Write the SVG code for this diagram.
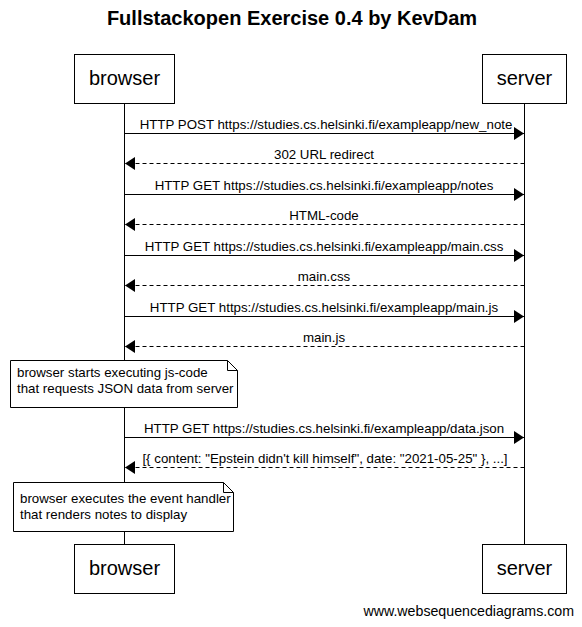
<svg xmlns="http://www.w3.org/2000/svg" width="582" height="627" viewBox="0 0 582 627">
<style>
text{font-family:"Liberation Sans",Arial,sans-serif;fill:#000}
.box{fill:#fff;stroke:#000;stroke-width:1}
.pt{font-size:20px;text-anchor:middle}
.lbl{font-size:13.3px;text-anchor:middle}
.nt{font-size:13.3px}
.ln{stroke:#000;stroke-width:1;fill:none}
.dash{stroke-dasharray:4 3}
</style>
<defs>
<marker id="ah" markerWidth="10" markerHeight="13" refX="10" refY="6.5" orient="auto" markerUnits="userSpaceOnUse">
<path d="M0,0 L10,6.5 L0,13 Z" fill="#000"/>
</marker>
</defs>
<rect width="582" height="627" fill="#fff"/>
<text x="292" y="25" font-size="20" font-weight="bold" text-anchor="middle">Fullstackopen Exercise 0.4 by KevDam</text>
<g id="lifelines">
<line class="ln" x1="124.5" y1="103" x2="124.5" y2="544"/>
<line class="ln" x1="524.5" y1="103" x2="524.5" y2="544"/>
</g>
<g id="browser">
<rect class="box" x="74.5" y="54.5" width="100" height="49"/>
<text class="pt" x="124.5" y="85">browser</text>
</g>
<g id="server">
<rect class="box" x="482.5" y="54.5" width="84" height="49"/>
<text class="pt" x="524.5" y="85">server</text>
</g>
<g id="browser-bottom">
<rect class="box" x="74.5" y="544.5" width="100" height="49"/>
<text class="pt" x="124.5" y="575">browser</text>
</g>
<g id="server-bottom">
<rect class="box" x="482.5" y="544.5" width="84" height="49"/>
<text class="pt" x="524.5" y="575">server</text>
</g>
<g id="connectors">
<line class="ln" x1="124.5" y1="133.5" x2="524" y2="133.5" marker-end="url(#ah)"/>
<text class="lbl" x="326" y="129">HTTP POST https://studies.cs.helsinki.fi/exampleapp/new_note</text>
<line class="ln dash" x1="524.5" y1="163.5" x2="125" y2="163.5" marker-end="url(#ah)"/>
<text class="lbl" x="324" y="159">302 URL redirect</text>
<line class="ln" x1="124.5" y1="194.5" x2="524" y2="194.5" marker-end="url(#ah)"/>
<text class="lbl" x="324" y="190">HTTP GET https://studies.cs.helsinki.fi/exampleapp/notes</text>
<line class="ln dash" x1="524.5" y1="224.5" x2="125" y2="224.5" marker-end="url(#ah)"/>
<text class="lbl" x="324" y="220">HTML-code</text>
<line class="ln" x1="124.5" y1="255.5" x2="524" y2="255.5" marker-end="url(#ah)"/>
<text class="lbl" x="324" y="251">HTTP GET https://studies.cs.helsinki.fi/exampleapp/main.css</text>
<line class="ln dash" x1="524.5" y1="285.5" x2="125" y2="285.5" marker-end="url(#ah)"/>
<text class="lbl" x="324" y="281">main.css</text>
<line class="ln" x1="124.5" y1="316.5" x2="524" y2="316.5" marker-end="url(#ah)"/>
<text class="lbl" x="324" y="312">HTTP GET https://studies.cs.helsinki.fi/exampleapp/main.js</text>
<line class="ln dash" x1="524.5" y1="346.5" x2="125" y2="346.5" marker-end="url(#ah)"/>
<text class="lbl" x="324" y="342">main.js</text>
<line class="ln" x1="124.5" y1="437.5" x2="524" y2="437.5" marker-end="url(#ah)"/>
<text class="lbl" x="324" y="433">HTTP GET https://studies.cs.helsinki.fi/exampleapp/data.json</text>
<line class="ln dash" x1="524.5" y1="467.5" x2="125" y2="467.5" marker-end="url(#ah)"/>
<text class="lbl" x="325" y="463">[{ content: "Epstein didn't kill himself", date: "2021-05-25" }, ...]</text>
</g>
<g id="note1">
<path class="box" d="M10.5,360.5 H227.5 L237.5,370.5 V407.5 H10.5 Z"/>
<path class="ln" d="M227.5,360.5 V370.5 H237.5"/>
<text class="nt" x="17" y="377">browser starts executing js-code</text>
<text class="nt" x="17" y="393">that requests JSON data from server</text>
</g>
<g id="note2">
<path class="box" d="M13.5,482.5 H223.5 L233.5,492.5 V531.5 H13.5 Z"/>
<path class="ln" d="M223.5,482.5 V492.5 H233.5"/>
<text class="nt" x="20" y="503">browser executes the event handler</text>
<text class="nt" x="20" y="519">that renders notes to display</text>
</g>
<text x="574" y="616" font-size="14.2" text-anchor="end">www.websequencediagrams.com</text>
</svg>
